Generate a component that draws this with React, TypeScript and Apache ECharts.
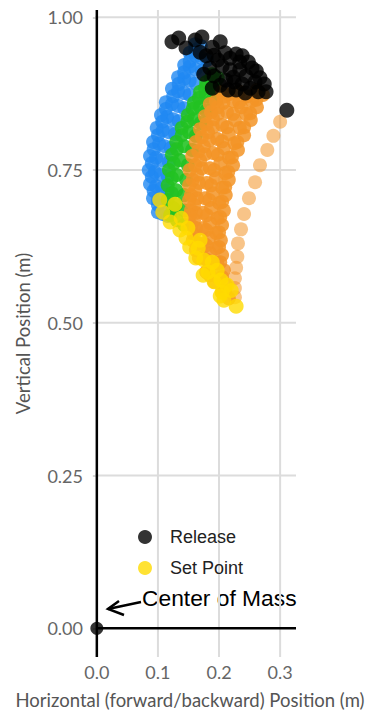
import React, { useEffect, useRef } from "react";
import * as echarts from "echarts";

// ---- Data (metres) ----
const blueTrial1 = [[0.100,0.681],[0.092,0.704],[0.087,0.727],[0.085,0.750],[0.087,0.773],[0.092,0.796],[0.098,0.819],[0.105,0.840],[0.113,0.861],[0.123,0.883],[0.133,0.902],[0.143,0.922],[0.152,0.942],[0.161,0.956]];
const blueTrial2 = [[0.108,0.678],[0.100,0.701],[0.097,0.724],[0.095,0.747],[0.097,0.770],[0.102,0.793],[0.108,0.815],[0.115,0.837],[0.123,0.858],[0.133,0.879],[0.143,0.899],[0.152,0.919],[0.162,0.937],[0.170,0.953]];
const blueTrial3 = [[0.116,0.675],[0.110,0.698],[0.107,0.721],[0.105,0.743],[0.107,0.766],[0.111,0.789],[0.118,0.812],[0.125,0.833],[0.133,0.855],[0.143,0.876],[0.152,0.896],[0.162,0.915],[0.172,0.933]];
const blueTrial4 = [[0.116,0.717],[0.116,0.740],[0.118,0.763],[0.121,0.786],[0.128,0.809],[0.134,0.830],[0.143,0.851],[0.152,0.873],[0.162,0.892],[0.172,0.912],[0.180,0.930]];
const blueTrial5 = [[0.100,0.693],[0.093,0.716],[0.090,0.739],[0.090,0.761],[0.093,0.784],[0.100,0.807],[0.107,0.829],[0.113,0.850],[0.125,0.871],[0.134,0.891],[0.143,0.910],[0.152,0.928],[0.161,0.946]];

const greenTrial1 = [[0.120,0.676],[0.116,0.701],[0.116,0.725],[0.118,0.750],[0.123,0.775],[0.130,0.796],[0.139,0.819],[0.149,0.840],[0.159,0.860],[0.169,0.878],[0.179,0.894],[0.189,0.907]];
const greenTrial2 = [[0.131,0.668],[0.130,0.693],[0.130,0.717],[0.131,0.742],[0.136,0.766],[0.143,0.789],[0.151,0.812],[0.159,0.833],[0.169,0.853],[0.179,0.871],[0.189,0.888],[0.198,0.901]];
const greenTrial3 = [[0.143,0.660],[0.143,0.684],[0.143,0.709],[0.146,0.734],[0.149,0.758],[0.156,0.783],[0.162,0.806],[0.170,0.827],[0.179,0.847],[0.189,0.865],[0.198,0.881]];
const greenTrial4 = [[0.125,0.688],[0.123,0.712],[0.123,0.737],[0.126,0.761],[0.131,0.784],[0.139,0.807],[0.148,0.829],[0.157,0.850],[0.167,0.868],[0.177,0.884],[0.187,0.899]];

const orangeTrial1 = [[0.216,0.540],[0.211,0.562],[0.208,0.586],[0.205,0.611],[0.203,0.635],[0.205,0.660],[0.208,0.684],[0.211,0.709],[0.216,0.734],[0.223,0.758],[0.231,0.783],[0.241,0.807],[0.252,0.832],[0.262,0.853],[0.272,0.873]];
const orangeTrial2 = [[0.205,0.550],[0.200,0.573],[0.197,0.598],[0.195,0.622],[0.195,0.647],[0.197,0.671],[0.200,0.696],[0.205,0.721],[0.210,0.745],[0.216,0.770],[0.225,0.794],[0.234,0.819],[0.244,0.842],[0.254,0.863],[0.262,0.881]];
const orangeTrial3 = [[0.192,0.567],[0.187,0.590],[0.185,0.614],[0.184,0.639],[0.185,0.663],[0.187,0.688],[0.190,0.712],[0.195,0.737],[0.202,0.761],[0.208,0.786],[0.216,0.809],[0.226,0.832],[0.236,0.853],[0.246,0.871]];
const orangeTrial4 = [[0.179,0.583],[0.175,0.606],[0.174,0.630],[0.174,0.655],[0.174,0.680],[0.177,0.704],[0.180,0.729],[0.185,0.753],[0.190,0.778],[0.197,0.801],[0.205,0.824],[0.213,0.845],[0.223,0.863],[0.233,0.878]];
const orangeTrial5 = [[0.167,0.606],[0.164,0.630],[0.162,0.655],[0.162,0.680],[0.164,0.704],[0.167,0.729],[0.172,0.753],[0.177,0.776],[0.184,0.799],[0.190,0.820],[0.198,0.842],[0.207,0.860],[0.216,0.874]];
const orangeTrial6 = [[0.157,0.635],[0.154,0.660],[0.154,0.684],[0.154,0.709],[0.157,0.734],[0.161,0.758],[0.166,0.781],[0.172,0.804],[0.179,0.825],[0.187,0.845],[0.195,0.863],[0.205,0.878]];
const orangeTrial7 = [[0.152,0.676],[0.151,0.701],[0.151,0.725],[0.152,0.750],[0.156,0.773],[0.162,0.796],[0.169,0.817],[0.177,0.838],[0.185,0.858]];
const orangeTrial9 = [[0.210,0.552],[0.205,0.575],[0.202,0.599],[0.200,0.624],[0.200,0.648],[0.202,0.673],[0.205,0.698],[0.210,0.722],[0.215,0.747],[0.221,0.771],[0.230,0.796],[0.241,0.820],[0.251,0.843],[0.261,0.865]];
const orangeTrial10 = [[0.185,0.578],[0.180,0.603],[0.179,0.627],[0.179,0.652],[0.180,0.676],[0.184,0.701],[0.187,0.725],[0.192,0.750],[0.198,0.775],[0.205,0.797],[0.213,0.820],[0.223,0.842],[0.233,0.861]];
const orangeTrial11 = [[0.162,0.619],[0.159,0.644],[0.159,0.668],[0.159,0.693],[0.161,0.717],[0.164,0.742],[0.169,0.766],[0.175,0.789],[0.182,0.812],[0.190,0.833],[0.198,0.853],[0.207,0.870]];
// outermost (sparse) trial
const orangeTrial8 = [[0.226,0.542],[0.226,0.557],[0.226,0.573],[0.228,0.590],[0.230,0.608],[0.231,0.630],[0.236,0.653],[0.241,0.678],[0.249,0.704],[0.259,0.730],[0.267,0.758],[0.279,0.783],[0.289,0.806],[0.300,0.829]];

const releaseX = [0.123,0.134,0.146,0.161,0.172,0.169,0.179,0.189,0.202,0.210,0.198,0.185,0.175,0.192,0.205,0.218,0.228,0.238,0.248,0.254,0.261,0.267,0.274,0.277,0.264,0.251,0.238,0.225,0.211,0.202,0.218,0.234,0.244,0.228,0.215,0.192,0.234,0.223,0.259,0.189,0.243,0.311];
const releaseY = [0.960,0.966,0.950,0.963,0.968,0.943,0.937,0.951,0.960,0.942,0.930,0.917,0.907,0.904,0.920,0.933,0.940,0.937,0.927,0.917,0.912,0.901,0.891,0.878,0.878,0.884,0.891,0.894,0.897,0.889,0.914,0.914,0.904,0.881,0.881,0.938,0.927,0.902,0.894,0.884,0.876,0.848];

const setX = [0.103,0.108,0.128,0.120,0.138,0.136,0.149,0.146,0.169,0.152,0.166,0.162,0.175,0.189,0.182,0.197,0.174,0.203,0.192,0.213,0.205,0.220,0.208,0.202,0.228];
const setY = [0.701,0.681,0.694,0.665,0.671,0.652,0.655,0.639,0.635,0.624,0.622,0.606,0.603,0.599,0.583,0.586,0.578,0.570,0.567,0.562,0.550,0.553,0.537,0.544,0.527];

const centerOfMass = [[0, 0]];

const xTicks = [0, 0.1, 0.2, 0.3];
const yTicks = [0, 0.25, 0.5, 0.75, 1.0];

// axis extents
const X_MIN = -0.003, X_MAX = 0.326;
const Y_MIN = -0.047, Y_MAX = 1.012;

const BLUE = "#1f88f2";
const GREEN = "#22c222";
const ORANGE = "#f39426";
const YELLOW = "#ffdb00";

export default function App() {
  const ref = useRef<HTMLDivElement>(null);
  useEffect(() => {
    if (!ref.current) return;
    const chart = echarts.init(ref.current, undefined, { renderer: "svg" });
    const blueData = [...blueTrial1, ...blueTrial5, ...blueTrial2, ...blueTrial3, ...blueTrial4];
    const greenData = [...greenTrial1, ...greenTrial4, ...greenTrial2, ...greenTrial3];
    const orangeData = [...orangeTrial1, ...orangeTrial9, ...orangeTrial2, ...orangeTrial3, ...orangeTrial10, ...orangeTrial4, ...orangeTrial5, ...orangeTrial11, ...orangeTrial6, ...orangeTrial7];
    const releaseData = releaseX.map((x, i) => [x, releaseY[i]]);
    const setData = setX.map((x, i) => [x, setY[i]]);

    const gridSeries: any[] = [];
    xTicks.filter((v) => v !== 0).forEach((v) => {
      gridSeries.push({ type: "line", data: [[v, Y_MIN], [v, Y_MAX]], symbol: "none", silent: true, z: 0,
        lineStyle: { color: "#dcdcdc", width: 2 } });
    });
    yTicks.filter((v) => v !== 0).forEach((v) => {
      gridSeries.push({ type: "line", data: [[X_MIN, v], [X_MAX, v]], symbol: "none", silent: true, z: 0,
        lineStyle: { color: "#dcdcdc", width: 2 } });
    });
    gridSeries.push({ type: "line", data: [[0, Y_MIN], [0, Y_MAX]], symbol: "none", silent: true, z: 1,
      lineStyle: { color: "#000", width: 2.5 } });
    gridSeries.push({ type: "line", data: [[0, 0], [X_MAX, 0]], symbol: "none", silent: true, z: 1,
      lineStyle: { color: "#000", width: 2.5 } });

    const labelFont = "Lato, 'Open Sans', sans-serif";
    const dot = 14;
    chart.setOption({
      animation: false,
      grid: { left: 95, right: 73, top: 10, bottom: 54, outerBoundsMode: "none", containLabel: false },
      legend: {
        orient: "vertical",
        left: 133,
        top: 523,
        itemWidth: 40,
        itemHeight: 14,
        itemGap: 13,
        icon: "circle",
        data: ["Release", "Set Point"],
        textStyle: { fontFamily: "'Liberation Sans', Arial, sans-serif", fontSize: 18, color: "#222" },
        selectedMode: false,
      },
      xAxis: {
        type: "value",
        min: X_MIN,
        max: X_MAX,
        name: "Horizontal (forward/backward) Position (m)",
        nameLocation: "middle",
        nameGap: 33,
        nameTextStyle: { fontFamily: labelFont, fontSize: 18.5, color: "#555", padding: [0, 11, 0, 0] },
        axisLine: { show: false },
        splitLine: { show: false },
        axisTick: { show: true, customValues: xTicks, length: 4, lineStyle: { color: "#c8c8c8", width: 1.5 } },
        axisLabel: { customValues: xTicks, formatter: (v: number) => v.toFixed(1), fontFamily: labelFont, fontSize: 18, color: "#666", margin: 6 },
      },
      yAxis: {
        type: "value",
        min: Y_MIN,
        max: Y_MAX,
        name: "Vertical Position (m)",
        nameLocation: "middle",
        nameGap: 63,
        nameTextStyle: { fontFamily: labelFont, fontSize: 18.5, color: "#555" },
        axisLine: { show: false },
        splitLine: { show: false },
        axisTick: { show: true, customValues: yTicks, length: 4, lineStyle: { color: "#c8c8c8", width: 1.5 } },
        axisLabel: { customValues: yTicks, formatter: (v: number) => v.toFixed(2), fontFamily: labelFont, fontSize: 18, color: "#666", margin: 12 },
      },
      graphic: [
        { type: "text", left: 142, top: 586, silent: true,
          style: { text: "Center of Mass", fontFamily: "'Liberation Sans', Arial, sans-serif", fontSize: 22.8, fill: "#000" } },
        { type: "line", silent: true, shape: { x1: 108, y1: 609, x2: 141, y2: 602 }, style: { stroke: "#000", lineWidth: 2.5 } },
        { type: "polyline", silent: true, shape: { points: [[119, 601], [108, 609], [124, 615]] }, style: { stroke: "#000", lineWidth: 2.5, fill: "none" } },
      ],
      series: [
        ...gridSeries,
        { type: "scatter", name: "Blue", data: blueData, symbolSize: dot, silent: true, z: 2,
          itemStyle: { color: BLUE, opacity: 0.8 } },
        { type: "scatter", name: "Green", data: greenData, symbolSize: dot, silent: true, z: 2,
          itemStyle: { color: GREEN, opacity: 0.88 } },
        { type: "scatter", name: "Orange", data: orangeData, symbolSize: dot, silent: true, z: 2,
          itemStyle: { color: ORANGE, opacity: 0.85 } },
        { type: "scatter", name: "Orange outer", data: orangeTrial8, symbolSize: dot, silent: true, z: 2,
          itemStyle: { color: ORANGE, opacity: 0.55 } },
        { type: "scatter", name: "Release", data: releaseData, symbolSize: 15, silent: true, z: 3,
          itemStyle: { color: "#000" } },
        { type: "scatter", name: "Set Point", data: setData, symbolSize: 15, silent: true, z: 3,
          itemStyle: { color: YELLOW } },
        { type: "scatter", name: "Center of Mass", data: centerOfMass, symbolSize: 13, silent: true, z: 3,
          itemStyle: { color: "#000" } },
      ],
    });
    return () => chart.dispose();
  }, []);
  return <div ref={ref} style={{ position: "absolute", left: 0, top: 0, width: 369, height: 711 }} />;
}
